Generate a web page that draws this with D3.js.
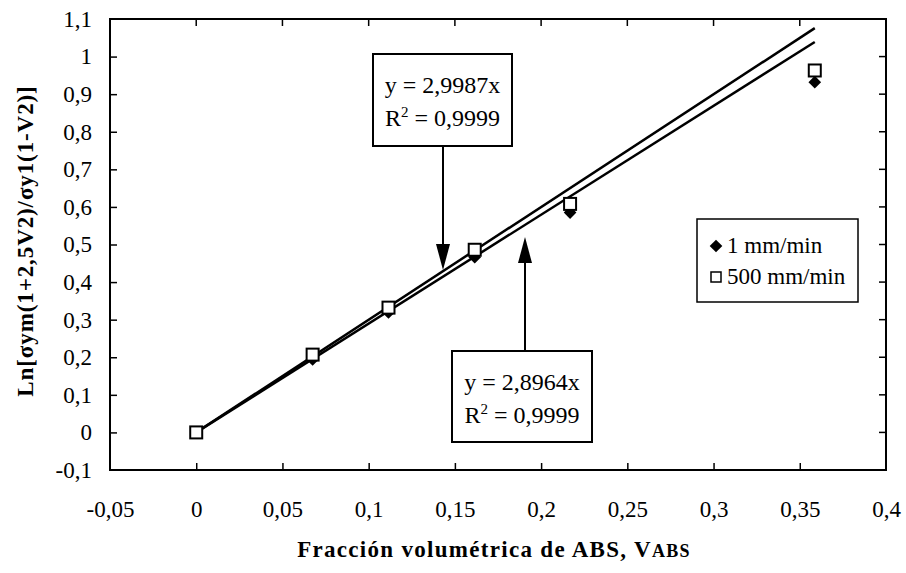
<!DOCTYPE html>
<html>
<head>
<meta charset="utf-8">
<script src="https://cdn.jsdelivr.net/npm/d3@7"></script>
<style>
  html, body { margin: 0; padding: 0; background: #fff; }
  svg { display: block; }
  svg text { font-family: "Liberation Serif", "Times New Roman", serif; fill: #000; }
</style>
</head>
<body>
<svg id="chart" width="906" height="573"></svg>
<script>
// Volume fraction of ABS
const fractions = [0, 0.0675, 0.1115, 0.1615, 0.2168, 0.3587];
// Ln[σym(1+2,5V2)/σy1(1-V2)] at each test speed
const slow = [0, 0.194, 0.319, 0.466, 0.585, 0.932];   // 1 mm/min
const fast = [0, 0.207, 0.332, 0.486, 0.608, 0.963];   // 500 mm/min
// Linear fits through the origin
const slopes = [2.9987, 2.8964];
const fitLabels = [["y = 2,9987x", "0,9999"], ["y = 2,8964x", "0,9999"]];
const seriesNames = ["1 mm/min", "500 mm/min"];
const xTicks = [-0.05, 0, 0.05, 0.1, 0.15, 0.2, 0.25, 0.3, 0.35, 0.4];
const yTicks = [-0.1, 0, 0.1, 0.2, 0.3, 0.4, 0.5, 0.6, 0.7, 0.8, 0.9, 1, 1.1];

const svg = d3.select("#chart");
const plotL = 110, plotR = 886, plotT = 19, plotB = 470;
const x = d3.scaleLinear().domain([-0.05, 0.4]).range([plotL, plotR]);
const y = d3.scaleLinear().domain([-0.1, 1.1]).range([plotB, plotT]);
// decimal comma and a plain hyphen for negatives
const comma = v => String(+v.toFixed(2)).replace(".", ",");

// frame
svg.append("rect").attr("x", plotL).attr("y", plotT)
  .attr("width", plotR - plotL).attr("height", plotB - plotT)
  .attr("fill", "none").attr("stroke", "#000").attr("stroke-width", 2);

// axes with inward ticks
const xAxis = svg.append("g").attr("transform", `translate(0,${plotB})`)
  .call(d3.axisBottom(x).tickValues(xTicks).tickSize(-7).tickPadding(31).tickFormat(comma));
const yAxis = svg.append("g").attr("transform", `translate(${plotL},0)`)
  .call(d3.axisLeft(y).tickValues(yTicks).tickSize(-7).tickPadding(18).tickFormat(comma));
[xAxis, yAxis].forEach(g => {
  g.attr("font-family", "Liberation Serif").attr("font-size", 23);
  g.select(".domain").remove();
  g.selectAll(".tick line").attr("stroke", "#000").attr("stroke-width", 1.5);
  g.selectAll(".tick text").attr("fill", "#000");
});
// the outer ticks sit on the frame corners
xAxis.selectAll(".tick line").filter(d => d === -0.05 || d === 0.4).remove();
yAxis.selectAll(".tick line").filter(d => d === -0.1 || d === 1.1).remove();
// top ticks
svg.append("g").selectAll("line").data(xTicks.filter(d => d > -0.05 && d < 0.4)).join("line")
  .attr("x1", d => x(d)).attr("x2", d => x(d)).attr("y1", plotT).attr("y2", plotT + 7)
  .attr("stroke", "#000").attr("stroke-width", 1.5);
// right ticks
svg.append("g").selectAll("line").data(yTicks.filter(d => d > -0.1 && d < 1.1)).join("line")
  .attr("x1", plotR).attr("x2", plotR - 7).attr("y1", d => y(d)).attr("y2", d => y(d))
  .attr("stroke", "#000").attr("stroke-width", 1.5);

// fit lines
const xMax = d3.max(fractions);
slopes.forEach(m => {
  svg.append("line")
    .attr("x1", x(0)).attr("y1", y(0)).attr("x2", x(xMax)).attr("y2", y(m * xMax))
    .attr("stroke", "#000").attr("stroke-width", 2.5);
});

// square-proportioned diamond symbol
const squareDiamond = {
  draw(ctx, size) {
    const r = Math.sqrt(size / 2);
    ctx.moveTo(0, -r); ctx.lineTo(r, 0); ctx.lineTo(0, r); ctx.lineTo(-r, 0); ctx.closePath();
  }
};
const diamond = d3.symbol().type(squareDiamond).size(80);

// markers
svg.append("g").selectAll("path").data(fractions.map((f, i) => [f, slow[i]])).join("path")
  .attr("d", diamond).attr("transform", d => `translate(${x(d[0])},${y(d[1])})`)
  .attr("fill", "#000");
svg.append("g").selectAll("rect").data(fractions.map((f, i) => [f, fast[i]])).join("rect")
  .attr("x", d => x(d[0]) - 6).attr("y", d => y(d[1]) - 6)
  .attr("width", 12).attr("height", 12)
  .attr("fill", "#fff").attr("stroke", "#000").attr("stroke-width", 2);

// fit annotation boxes with arrows
function fitBox(bx, by, bw, bh, lines, ax, ay1, ay2) {
  const g = svg.append("g");
  g.append("rect").attr("x", bx).attr("y", by).attr("width", bw).attr("height", bh)
    .attr("fill", "#fff").attr("stroke", "#000").attr("stroke-width", 2);
  const cx = bx + bw / 2;
  g.append("text").attr("x", cx).attr("y", by + 39)
    .attr("text-anchor", "middle").style("font-size", "24px").text(lines[0]);
  const t2 = g.append("text").attr("x", cx).attr("y", by + 72)
    .attr("text-anchor", "middle").style("font-size", "24px");
  t2.append("tspan").text("R");
  t2.append("tspan").attr("dy", -9).style("font-size", "15px").text("2");
  t2.append("tspan").attr("dy", 9).text(" = " + lines[1]);
  // arrow shaft and head
  const dir = ay2 > ay1 ? 1 : -1;
  const headLen = 26, headW = 7;
  g.append("line").attr("x1", ax).attr("x2", ax).attr("y1", ay1).attr("y2", ay2 - dir * headLen)
    .attr("stroke", "#000").attr("stroke-width", 2);
  g.append("path")
    .attr("d", `M${ax},${ay2} L${ax - headW},${ay2 - dir * headLen} L${ax + headW},${ay2 - dir * headLen} Z`)
    .attr("fill", "#000");
}
fitBox(373, 54, 139, 92, fitLabels[0], 443, 146, 270);
fitBox(452, 351, 140, 91, fitLabels[1], 525, 351, 237);

// legend
const leg = svg.append("g");
leg.append("rect").attr("x", 697).attr("y", 219).attr("width", 161).attr("height", 83)
  .attr("fill", "#fff").attr("stroke", "#000").attr("stroke-width", 1.5);
leg.append("path").attr("d", diamond).attr("transform", "translate(716,246)").attr("fill", "#000");
leg.append("rect").attr("x", 711).attr("y", 272).attr("width", 10).attr("height", 10)
  .attr("fill", "#fff").attr("stroke", "#000").attr("stroke-width", 1.5);
leg.append("text").attr("x", 727).attr("y", 253).style("font-size", "23px").text(seriesNames[0]);
leg.append("text").attr("x", 727).attr("y", 284).style("font-size", "23px").text(seriesNames[1]);

// axis titles
const xt = svg.append("text").attr("x", 494).attr("y", 557).attr("text-anchor", "middle")
  .style("font-size", "23px").style("font-weight", "bold").style("letter-spacing", "1.3px");
xt.append("tspan").text("Fracción volumétrica de ABS, V");
xt.append("tspan").style("font-size", "18px").text("ABS");

svg.append("text").attr("transform", "translate(33,241) rotate(-90)")
  .attr("text-anchor", "middle").style("font-size", "23px").style("font-weight", "bold")
  .style("letter-spacing", "0.9px")
  .text("Ln[σym(1+2,5V2)/σy1(1-V2)]");
</script>
</body>
</html>
